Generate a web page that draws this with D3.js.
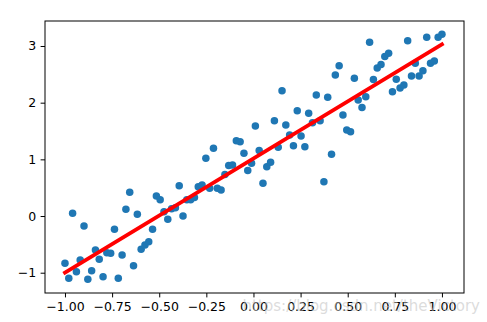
<!DOCTYPE html>
<html>
<head>
<meta charset="utf-8">
<script src="https://cdnjs.cloudflare.com/ajax/libs/d3/7.8.5/d3.min.js"></script>
<style>
  body { margin: 0; background: #fff; }
  svg { display: block; font-family: "DejaVu Sans", sans-serif; }
</style>
</head>
<body>
<div id="chart"></div>
<script>
// 100 samples, x evenly spaced from -1 to 1
const pointCount = 100;
const pointY = [
  -0.835, -1.099, 0.048, -0.983, -0.776, -0.176, -1.117, -0.965, -0.600, -0.764,
  -1.071, -0.648, -0.658, -0.235, -1.099, -0.688, 0.118, 0.418, -0.877, 0.030,
  -0.588, -0.512, -0.453, -0.235, 0.353, 0.288, 0.076, -0.058, 0.127, 0.145,
  0.535, 0.000, 0.288, 0.288, 0.326, 0.517, 0.547, 1.018, 0.489, 1.195,
  0.489, 0.459, 0.732, 0.891, 0.900, 1.329, 1.311, 1.106, 0.803, 0.930,
  1.588, 1.156, 0.577, 0.870, 0.948, 1.682, 1.212, 2.211, 1.606, 1.429,
  1.241, 1.858, 1.412, 1.223, 1.812, 1.646, 2.135, 1.682, 0.605, 2.095,
  1.089, 2.488, 2.652, 1.782, 1.518, 1.488, 2.430, 2.047, 1.915, 2.105,
  3.065, 2.409, 2.612, 2.673, 2.815, 2.871, 2.193, 2.412, 2.259, 2.312,
  3.093, 2.470, 2.695, 2.470, 2.564, 3.153, 2.695, 2.735, 3.153, 3.206
];
const pointX = pointY.map((d, i) => -1 + 2 * i / (pointCount - 1));

// fitted line end points
const lineX = [-1, 1];
const lineY = [-1.0, 3.03];

const xTicks = [-1.0, -0.75, -0.5, -0.25, 0.0, 0.25, 0.5, 0.75, 1.0];
const yTicks = [-1, 0, 1, 2, 3];

const width = 487;
const height = 322;
const plot = { left: 45, right: 464, top: 21, bottom: 293 };

const svg = d3.select('#chart')
  .append('svg')
  .attr('width', width)
  .attr('height', height);

const x = d3.scaleLinear().domain([-1.106, 1.117]).range([plot.left, plot.right]);
const y = d3.scaleLinear().domain([-1.358, 3.441]).range([plot.bottom, plot.top]);

// Scatter points
const points = pointX.map((d, i) => ({ x: d, y: pointY[i] }));
svg.append('g')
  .selectAll('circle')
  .data(points)
  .join('circle')
  .attr('cx', (d) => x(d.x))
  .attr('cy', (d) => y(d.y))
  .attr('r', 3.75)
  .attr('fill', '#1f77b4');

// Regression line
const line = d3.line()
  .x((d) => x(d[0]))
  .y((d) => y(d[1]));
svg.append('path')
  .datum(lineX.map((d, i) => [d, lineY[i]]))
  .attr('d', line)
  .attr('fill', 'none')
  .attr('stroke', '#ff0000')
  .attr('stroke-width', 3.75)
  .attr('stroke-linecap', 'square');

// Axes
const xAxis = d3.axisBottom(x)
  .tickValues(xTicks)
  .tickFormat(d3.format('.2f'))
  .tickSize(4.4)
  .tickPadding(4.4);
const yAxis = d3.axisLeft(y)
  .tickValues(yTicks)
  .tickFormat(d3.format('d'))
  .tickSize(4.4)
  .tickPadding(4.4);

const gx = svg.append('g')
  .attr('transform', `translate(0,${plot.bottom})`)
  .call(xAxis);
const gy = svg.append('g')
  .attr('transform', `translate(${plot.left},0)`)
  .call(yAxis);

[gx, gy].forEach((g) => {
  g.select('.domain').remove();
  g.selectAll('line').attr('stroke', '#000').attr('stroke-width', 1);
  g.selectAll('text')
    .attr('fill', '#000')
    .style('font-size', '12.5px')
    .style('font-family', '"DejaVu Sans", sans-serif');
});

// Frame
svg.append('rect')
  .attr('x', plot.left)
  .attr('y', plot.top)
  .attr('width', plot.right - plot.left)
  .attr('height', plot.bottom - plot.top)
  .attr('fill', 'none')
  .attr('stroke', '#000')
  .attr('stroke-width', 1);

// Watermark
svg.append('text')
  .attr('x', 480)
  .attr('y', 311)
  .attr('text-anchor', 'end')
  .attr('fill', 'rgba(190,190,190,0.55)')
  .style('font-size', '15px')
  .text('https://blog.csdn.net/theVictory');
</script>
</body>
</html>
